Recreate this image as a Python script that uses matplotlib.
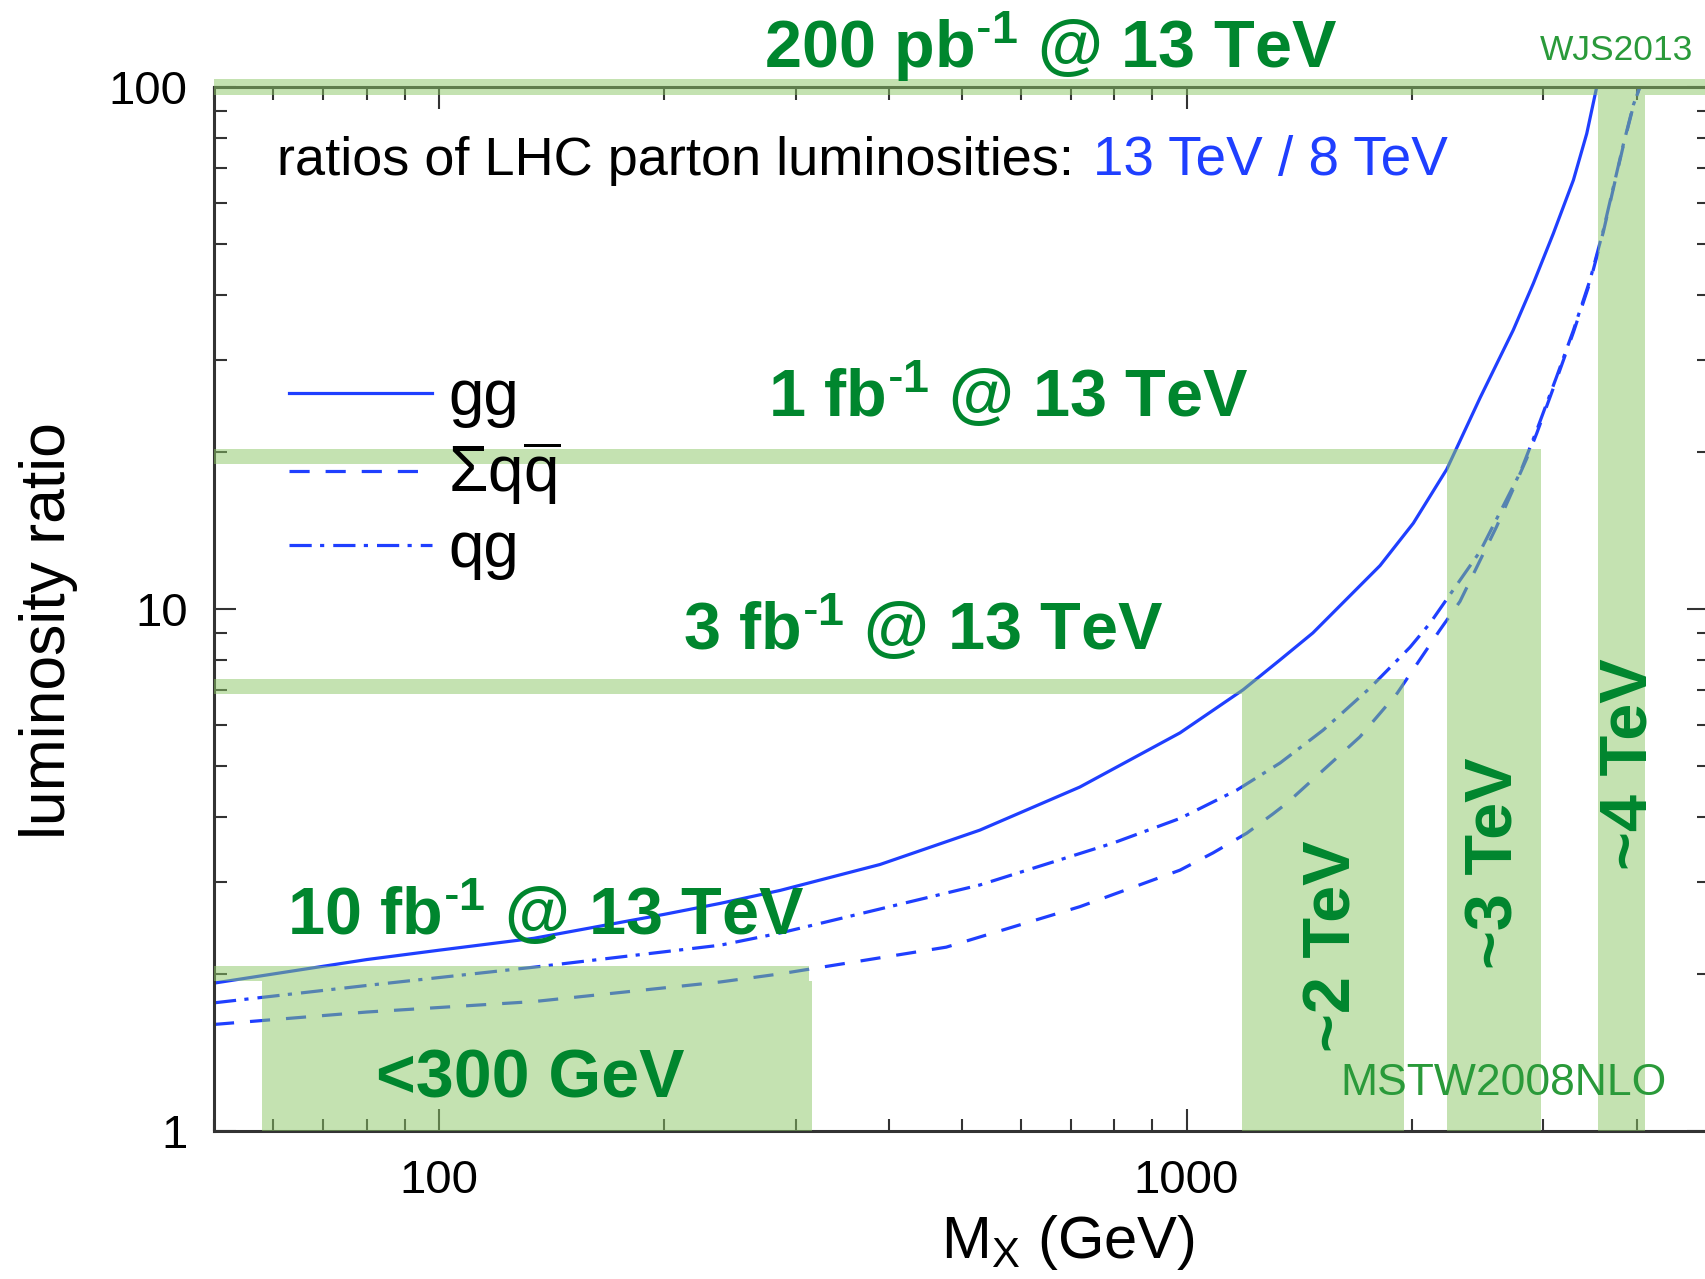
import matplotlib
matplotlib.use('Agg')
import matplotlib.pyplot as plt
from matplotlib.ticker import FuncFormatter, NullFormatter

# ratios of parton luminosities 13 TeV / 8 TeV
mass_gg = [50, 80, 100, 134, 200, 238, 286, 389, 529, 720, 980, 1190, 1334,
           1476, 1815, 2011, 2229, 2470, 2736, 2910, 3095, 3293, 3431, 3538]
ratio_gg = [1.92, 2.13, 2.22, 2.34, 2.60, 2.73, 2.89, 3.24, 3.77, 4.56, 5.79,
            7.0, 7.99, 9.0, 12.11, 14.6, 18.52, 25.38, 34.23, 42.02, 52.38,
            66.34, 81.42, 100]

mass_qqbar = [50, 80, 134, 238, 286, 477, 720, 980, 1085, 1204, 1305, 1363,
              1706, 1914, 2183, 2322, 2600, 2851, 2941, 3128, 3293, 3466,
              3611, 3724, 3841, 3961, 4040]
ratio_qqbar = [1.60, 1.69, 1.77, 1.93, 2.00, 2.25, 2.69, 3.16, 3.41, 3.72,
               4.05, 4.25, 5.69, 6.9, 9.12, 10.34, 14.4, 19.4, 21.7, 27.6,
               33.9, 42.3, 52.8, 63.9, 77.3, 92.0, 100]

mass_qg = [50, 80, 134, 238, 286, 529, 797, 980, 1168, 1334, 1523, 1760,
           1991, 2118, 2470, 2794, 2941, 3128, 3293, 3466, 3611, 3724, 3841,
           3961, 4040]
ratio_qg = [1.76, 1.90, 2.06, 2.27, 2.395, 2.96, 3.56, 3.97, 4.50, 5.07,
            5.86, 7.06, 8.45, 9.4, 12.89, 18.23, 22.0, 27.9, 34.2, 42.7,
            53.2, 64.3, 77.7, 92.4, 100]

# luminosity levels (horizontal bands) and mass reach (vertical bars)
lumi_labels = [r'200 pb$^{\text{-}\mathbf{1}}$ @ 13 TeV',
               r'1 fb$^{\text{-}\mathbf{1}}$ @ 13 TeV',
               r'3 fb$^{\text{-}\mathbf{1}}$ @ 13 TeV',
               r'10 fb$^{\text{-}\mathbf{1}}$ @ 13 TeV']
lumi_ratio = [100, 19.6, 7.1, 2.0]
lumi_xmax = [5000, 2978, 1954, 313]

reach_labels = ['~4 TeV', '~3 TeV', '~2 TeV', '<300 GeV']
reach_lo = [3552, 2231, 1186, 58]
reach_hi = [4103, 2978, 1954, 315]

W, H = 1706, 1279
blue = '#1f3fff'
green_txt = '#00862e'
green_small = '#2a9a3a'
band_col = '#8bc765'
band_half = 1.034   # half thickness of a band, as a ratio factor

plt.rcParams['font.family'] = ['Liberation Sans', 'DejaVu Sans']
plt.rcParams['mathtext.fontset'] = 'custom'
plt.rcParams['mathtext.rm'] = 'Liberation Sans'
plt.rcParams['mathtext.it'] = 'Liberation Sans:italic'
plt.rcParams['mathtext.bf'] = 'Liberation Sans:bold'
plt.rcParams['mathtext.sf'] = 'Liberation Sans'
plt.rcParams['lines.scale_dashes'] = False


def px(x, y):
    '''pixel position (top-left origin) -> figure fraction'''
    return x / W, 1 - y / H


fig = plt.figure(figsize=(W / 100, H / 100), dpi=100)
ax = fig.add_axes([214 / W, 1 - 1131 / H, (1709 - 214) / W, (1131 - 87) / H])
ax.set_xscale('log')
ax.set_yscale('log')
ax.set_xlim(50, 5000)
ax.set_ylim(1, 100)

l_gg, = ax.plot(mass_gg, ratio_gg, color=blue, lw=2.3, zorder=2)
l_qq, = ax.plot(mass_qqbar, ratio_qqbar, color=blue, lw=2.3,
                linestyle=(0, (14.5, 11.5)), zorder=2)
l_qg, = ax.plot(mass_qg, ratio_qg, color=blue, lw=2.3,
                linestyle=(0, (16, 6, 3, 6.5)), zorder=2)

# green bands
for v, xm in zip(lumi_ratio, lumi_xmax):
    ax.fill_between([50, xm], v / band_half, v * band_half, color=band_col,
                    alpha=0.5, lw=0, zorder=3, clip_on=False)
for lo, hi, v in zip(reach_lo, reach_hi, lumi_ratio):
    ax.fill_between([lo, hi], 1, v / band_half, color=band_col,
                    alpha=0.5, lw=0, zorder=3, clip_on=False)

# axes styling
for sp in ax.spines.values():
    sp.set_linewidth(2.2)
    sp.set_color('#333333')
ax.tick_params(which='both', direction='in', top=True, right=True,
               color='#333333', width=1.5, labelsize=34)
ax.tick_params(which='major', length=16)
ax.tick_params(which='minor', length=9)
ax.tick_params(axis='x', pad=20)
ax.tick_params(axis='y', pad=19)
fmt = FuncFormatter(lambda v, _: '%g' % v)
ax.xaxis.set_major_formatter(fmt)
ax.yaxis.set_major_formatter(fmt)
ax.xaxis.set_minor_formatter(NullFormatter())
ax.yaxis.set_minor_formatter(NullFormatter())

fig.text(*px(49, 631), 'luminosity ratio', fontsize=45, rotation=90,
         ha='center', va='center')
fig.text(*px(941, 1258), r'M$_{\mathregular{X}}$ (GeV)', fontsize=43,
         ha='left', va='baseline')

# header
fig.text(*px(277, 175), 'ratios of LHC parton luminosities:', fontsize=39,
         ha='left', va='baseline')
fig.text(*px(1093, 175), '13 TeV / 8 TeV', fontsize=39.5, color=blue,
         ha='left', va='baseline')

# legend
ax.legend([l_gg, l_qq, l_qg], ['gg', r'$\mathregular{\Sigma q\overline{q}}$', 'qg'],
          loc='upper left', bbox_to_anchor=px(289, 368),
          bbox_transform=fig.transFigure, frameon=False, fontsize=46,
          handlelength=2.24, handletextpad=0.25, labelspacing=0.19,
          borderpad=0, borderaxespad=0)

# luminosity labels
lumi_pos = [(764, 68), (768, 417), (683, 650), (287, 935)]
for lab, (x, y) in zip(lumi_labels, lumi_pos):
    fig.text(*px(x, y), lab, fontsize=48, fontweight='bold', color=green_txt,
             ha='left', va='baseline', zorder=5)

# mass reach labels
fig.text(*px(376, 1098), reach_labels[3], fontsize=49, fontweight='bold',
         color=green_txt, ha='left', va='baseline', zorder=5)
reach_pos = [(1647, 870), (1513, 969), (1351, 1052)]
for lab, (x, y) in zip(reach_labels[:3], reach_pos):
    fig.text(*px(x, y), lab, fontsize=48, fontweight='bold', color=green_txt,
             rotation=90, rotation_mode='anchor', ha='left', va='baseline',
             zorder=5)

fig.text(*px(1540, 60), 'WJS2013', fontsize=25.5, color=green_small,
         ha='left', va='baseline')
fig.text(*px(1340, 1095), 'MSTW2008NLO', fontsize=32, color=green_small,
         ha='left', va='baseline')

fig.savefig('out.png', dpi=100)
